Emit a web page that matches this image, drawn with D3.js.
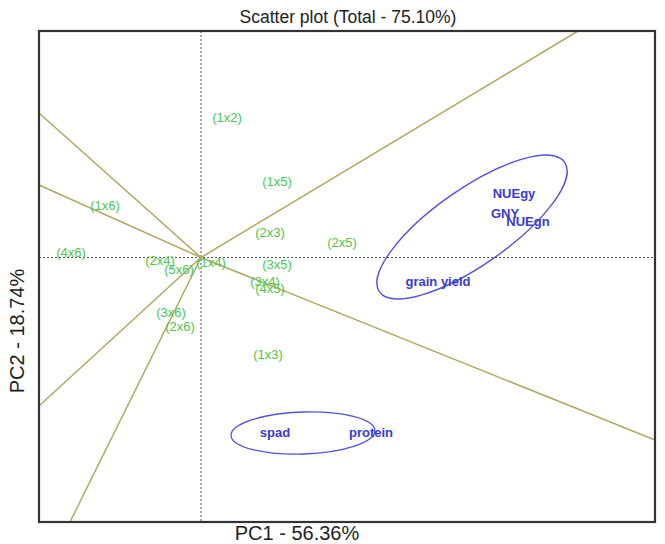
<!DOCTYPE html>
<html>
<head>
<meta charset="utf-8">
<script src="https://cdn.jsdelivr.net/npm/d3@7"></script>
<style>
  body { margin: 0; background: #fff; }
  text { font-family: "Liberation Sans", Arial, sans-serif; }
</style>
</head>
<body>
<svg id="chart" width="665" height="544"></svg>
<script>
// genotypes (green labels), PC1 / PC2 scores
var genoNames = ["(1x2)","(1x5)","(1x6)","(2x3)","(2x5)","(4x6)","(2x4)","(5x6)","(1x4)","(3x5)","(3x4)","(4x5)","(3x6)","(2x6)","(1x3)"];
var genoPC1   = [0.26, 0.76, -0.96, 0.69, 1.41, -1.30, -0.41, -0.22, 0.10, 0.76, 0.64, 0.69, -0.30, -0.21, 0.67];
var genoPC2   = [1.405, 0.765, 0.525, 0.255, 0.155, 0.055, -0.025, -0.115, -0.045, -0.065, -0.235, -0.305, -0.545, -0.685, -0.965];

// traits (blue labels)
var traitNames = ["NUEgy","GNY","NUEgn","grain yield","spad","protein"];
var traitPC1   = [3.13, 3.04, 3.27, 2.37, 0.74, 1.70];
var traitPC2   = [0.645, 0.445, 0.365, -0.235, -1.745, -1.745];

// sector rays from the origin, end points on the frame
var rayPC1 = [3.77, -1.62, -1.62, 4.54, -1.62, -1.31];
var rayPC2 = [2.265, 1.445, 0.725, -1.825, -1.485, -2.645];

// groups drawn as ellipses: centre, radii, tilt (degrees)
var ellCx  = [2.71, 1.02];
var ellCy  = [0.305, -1.755];
var ellRx  = [1.13, 0.72];
var ellRy  = [0.38, 0.21];
var ellRot = [35, 2];

var xDomain = [-1.62, 4.54],
    yDomain = [-2.645, 2.265];

var margin = {top: 31, right: 10, bottom: 22, left: 39},
    width = 665 - margin.left - margin.right,
    height = 544 - margin.top - margin.bottom;

var svg = d3.select("svg#chart");

var x = d3.scaleLinear().domain(xDomain).range([margin.left, margin.left + width]),
    y = d3.scaleLinear().domain(yDomain).range([margin.top + height, margin.top]);

// title and axis labels
svg.append("text")
    .attr("x", 348).attr("y", 17)
    .attr("text-anchor", "middle").attr("dominant-baseline", "central")
    .style("font-size", "17.5px").style("fill", "#222")
    .text("Scatter plot (Total - 75.10%)");

svg.append("text")
    .attr("x", 297).attr("y", 533)
    .attr("text-anchor", "middle").attr("dominant-baseline", "central")
    .style("font-size", "20px").style("fill", "#222")
    .text("PC1 - 56.36%");

svg.append("text")
    .attr("transform", "translate(17,331) rotate(-90)")
    .attr("text-anchor", "middle").attr("dominant-baseline", "central")
    .style("font-size", "20px").style("fill", "#222")
    .text("PC2 - 18.74%");

var plot = svg.append("g");

// dotted zero lines
plot.append("line")
    .attr("x1", x(0)).attr("x2", x(0))
    .attr("y1", y(yDomain[1])).attr("y2", y(yDomain[0]))
    .attr("stroke", "#555").attr("stroke-width", 1).attr("stroke-dasharray", "2,2");
plot.append("line")
    .attr("x1", x(xDomain[0])).attr("x2", x(xDomain[1]))
    .attr("y1", y(0)).attr("y2", y(0))
    .attr("stroke", "#555").attr("stroke-width", 1).attr("stroke-dasharray", "2,2");

// rays
plot.selectAll("line.ray")
    .data(d3.range(rayPC1.length))
    .enter().append("line")
    .attr("class", "ray")
    .attr("x1", x(0)).attr("y1", y(0))
    .attr("x2", function(i) { return x(rayPC1[i]); })
    .attr("y2", function(i) { return y(rayPC2[i]); })
    .attr("stroke", "#b0a862").attr("stroke-width", 1.5);

// ellipses
plot.selectAll("ellipse")
    .data(d3.range(ellCx.length))
    .enter().append("ellipse")
    .attr("cx", 0).attr("cy", 0)
    .attr("rx", function(i) { return x(ellRx[i]) - x(0); })
    .attr("ry", function(i) { return y(0) - y(ellRy[i]); })
    .attr("transform", function(i) {
      return "translate(" + x(ellCx[i]) + "," + y(ellCy[i]) + ") rotate(" + (-ellRot[i]) + ")";
    })
    .attr("fill", "none").attr("stroke", "#5050d8").attr("stroke-width", 1.3);

// genotype labels
plot.selectAll("text.geno")
    .data(d3.range(genoNames.length))
    .enter().append("text")
    .attr("class", "geno")
    .attr("x", function(i) { return x(genoPC1[i]); })
    .attr("y", function(i) { return y(genoPC2[i]); })
    .attr("text-anchor", "middle").attr("dominant-baseline", "central")
    .style("font-size", "13px").style("fill", "#4cc64c")
    .text(function(i) { return genoNames[i]; });

// trait labels
plot.selectAll("text.trait")
    .data(d3.range(traitNames.length))
    .enter().append("text")
    .attr("class", "trait")
    .attr("x", function(i) { return x(traitPC1[i]); })
    .attr("y", function(i) { return y(traitPC2[i]); })
    .attr("text-anchor", "middle").attr("dominant-baseline", "central")
    .style("font-size", "13px").style("font-weight", "bold").style("fill", "#3a3ad0")
    .text(function(i) { return traitNames[i]; });

// frame
svg.append("rect")
    .attr("x", x(xDomain[0])).attr("y", y(yDomain[1]))
    .attr("width", x(xDomain[1]) - x(xDomain[0]))
    .attr("height", y(yDomain[0]) - y(yDomain[1]))
    .attr("fill", "none").attr("stroke", "#333").attr("stroke-width", 2.2);
</script>
</body>
</html>
